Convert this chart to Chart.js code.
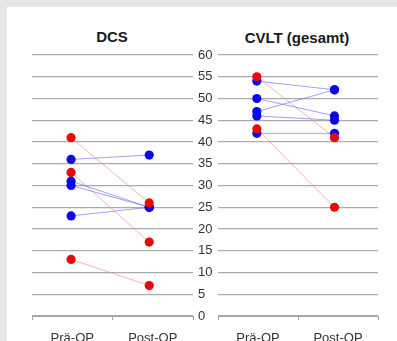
<!DOCTYPE html>
<html><head><meta charset="utf-8">
<script src="https://cdn.jsdelivr.net/npm/chart.js@4"></script>
<style>
html,body{margin:0;padding:0;width:397px;height:341px;overflow:hidden;background:#e6e6e6;}
#panel{position:absolute;left:7px;top:7px;width:390px;height:334px;background:#fff;}
canvas{position:absolute;top:0;}
#c1{left:0}
#c2{left:190px}
.title{position:absolute;top:30px;font:bold 15px "Liberation Sans",Arial,sans-serif;line-height:15px;color:#1a1a1a;text-align:center;white-space:nowrap;}
</style></head><body>
<div id="panel"></div>
<div class="title" style="left:62px;top:29px;width:100px">DCS</div>
<div class="title" style="left:237px;width:120px">CVLT (gesamt)</div>
<canvas id="c1" width="200" height="350"></canvas>
<canvas id="c2" width="207" height="350"></canvas>
<script>
const categories = ['Prä-OP', 'Post-OP'];
const yTickValues = [0, 5, 10, 15, 20, 25, 30, 35, 40, 45, 50, 55, 60];

const dcsPre   = [36, 31, 30, 23, 41, 33, 13];
const dcsPost  = [37, 25, 25, 25, 26, 17, 7];
const dcsGroup = ['blue', 'blue', 'blue', 'blue', 'red', 'red', 'red'];

const cvltPre   = [54, 50, 47, 46, 42, 55, 43];
const cvltPost  = [52, 46, 52, 45, 42, 41, 25];
const cvltGroup = ['blue', 'blue', 'blue', 'blue', 'blue', 'red', 'red'];

const pointColor = { blue: '#0a0ae6', red: '#e60a0a' };
const lineColor  = { blue: 'rgba(110,110,235,0.65)', red: 'rgba(240,140,140,0.65)' };

function buildDatasets(pre, post, group) {
  const ds = [];
  ['red', 'blue'].forEach((g, gi) => {
    const pts = [];
    pre.forEach((v, i) => {
      if (group[i] === g) {
        pts.push({ x: 0, y: v });
        pts.push({ x: 1, y: post[i] });
      }
    });
    ds.push({
      type: 'scatter', xAxisID: 'xp', data: pts, showLine: false,
      pointRadius: 4.6, pointHoverRadius: 4.6, pointBorderWidth: 0,
      backgroundColor: pointColor[g], borderColor: pointColor[g], order: gi
    });
  });
  pre.forEach((v, i) => {
    ds.push({
      type: 'line', xAxisID: 'xp', data: [{ x: 0, y: v }, { x: 1, y: post[i] }],
      borderColor: lineColor[group[i]], borderWidth: 1, pointRadius: 0, order: 5
    });
  });
  return ds;
}

function makeChart(id, pre, post, group, showY, pad) {
  new Chart(document.getElementById(id), {
    type: 'line',
    data: { labels: categories, datasets: buildDatasets(pre, post, group) },
    options: {
      responsive: false, animation: false,
      layout: { padding: pad },
      plugins: { legend: { display: false }, tooltip: { enabled: false }, title: { display: false } },
      scales: {
        x: {
          type: 'category', labels: categories, offset: true,
          grid: { drawOnChartArea: false, drawTicks: true, tickLength: 4, color: '#a0a0a0', offset: true },
          border: { display: true, color: '#a8a8a8', width: 1 },
          ticks: { font: { family: '"Liberation Sans", Arial, sans-serif', size: 13 }, color: '#333', padding: 10.5, maxRotation: 0 },
          afterFit: a => { a.height = 29; }
        },
        xp: { type: 'linear', display: false, min: -0.5, max: 1.56 },
        y: {
          min: 0, max: 60,
          afterBuildTicks: a => { a.ticks = yTickValues.map(v => ({ value: v })); },
          grid: { color: '#ababab', lineWidth: 1.2, drawTicks: false },
          border: { display: false },
          ticks: { display: showY, font: { family: '"Liberation Sans", Arial, sans-serif', size: 13 }, color: '#333', crossAlign: 'far', padding: 0 },
          afterFit: a => { a.width = showY ? 20 : 0; }
        }
      }
    }
  });
}

makeChart('c1', dcsPre, dcsPost, dcsGroup, false, { left: 32, right: 7, top: 55, bottom: 5 });
makeChart('c2', cvltPre, cvltPost, cvltGroup, true, { left: 8, right: 19, top: 55, bottom: 5 });
</script>
</body></html>
